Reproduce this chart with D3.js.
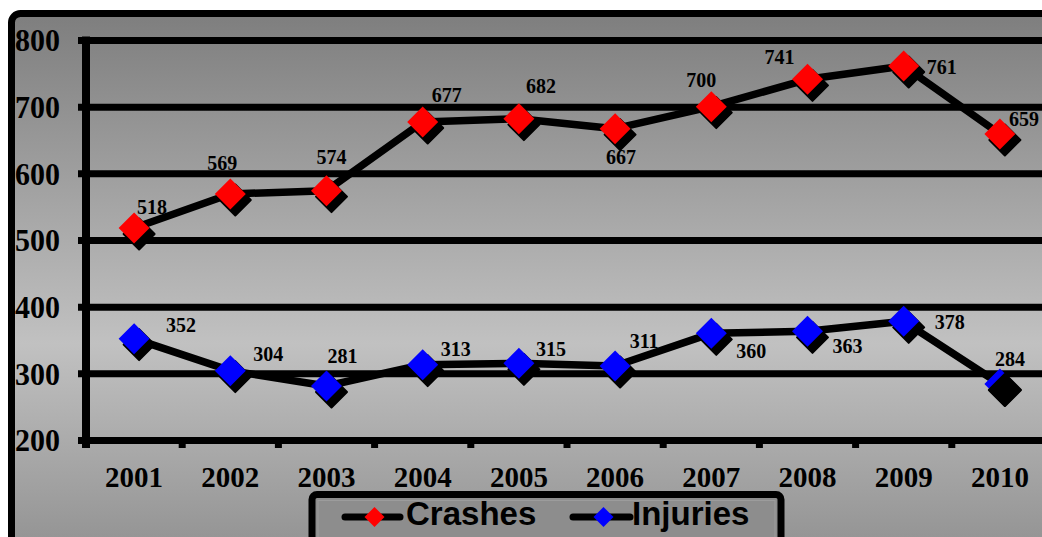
<!DOCTYPE html>
<html>
<head>
<meta charset="utf-8">
<script src="https://cdn.jsdelivr.net/npm/d3@7"></script>
<style>
  html, body { margin: 0; padding: 0; background: #fff; }
  svg { display: block; }
</style>
</head>
<body>
<svg id="chart" width="1042" height="537"></svg>
<script>
// Yearly totals
const years = ["2001", "2002", "2003", "2004", "2005", "2006", "2007", "2008", "2009", "2010"];
const crashes = [518, 569, 574, 677, 682, 667, 700, 741, 761, 659];
const injuries = [352, 304, 281, 313, 315, 311, 360, 363, 378, 284];
const yTicks = [200, 300, 400, 500, 600, 700, 800];
const seriesNames = ["Crashes", "Injuries"];

// Where each value label sits relative to its marker (dx, dy)
const crashLabelOffsets = [[18,-21],[-8,-31],[5,-33],[24,-27],[22,-32],[6,29],[-10,-26],[-28,-22],[38,1],[24,-15]];
const injuryLabelOffsets = [[47,-13],[38,-16],[16,-30],[33,-15],[32,-14],[29,-25],[40,18],[40,15],[46,1],[10,-25]];

const svg = d3.select("#chart");
const W = 1042, H = 537;

// background gradient of the chart frame
const defs = svg.append("defs");
const grad = defs.append("linearGradient").attr("id", "bg").attr("x1", 0).attr("y1", 0).attr("x2", 0).attr("y2", 1);
grad.append("stop").attr("offset", "0%").attr("stop-color", "#7e7e7e");
grad.append("stop").attr("offset", "55%").attr("stop-color", "#c1c1c1");
grad.append("stop").attr("offset", "100%").attr("stop-color", "#848484");

svg.append("rect")
  .attr("x", 11.5).attr("y", 13.5)
  .attr("width", 1100).attr("height", 600)
  .attr("rx", 9)
  .attr("fill", "url(#bg)")
  .attr("stroke", "#000").attr("stroke-width", 7);

const x = d3.scaleBand().domain(years).range([86, 1048]).padding(0);
const y = d3.scaleLinear().domain([200, 800]).range([440, 40]);
const cx = d => x(d) + x.bandwidth() / 2;

const serif = "'Liberation Serif', 'Times New Roman', serif";
const sans = "'Liberation Sans', Arial, sans-serif";

// horizontal gridlines with short ticks left of the axis
const yAxis = d3.axisLeft(y).tickValues(yTicks).tickSize(-(W + 20 - 86)).tickSizeOuter(0).tickPadding(0);
const gy = svg.append("g").attr("transform", "translate(86,0)").call(yAxis);
gy.select(".domain").remove();
gy.selectAll(".tick line")
  .attr("x1", -8)
  .attr("stroke", "#000").attr("stroke-width", 7);
gy.selectAll(".tick text")
  .attr("x", -26)
  .attr("dy", "0.34em")
  .attr("text-anchor", "end")
  .attr("textLength", 45)
  .attr("lengthAdjust", "spacingAndGlyphs")
  .attr("fill", "#000")
  .style("font-family", serif)
  .style("font-weight", "bold")
  .style("font-size", "32px");

// category axis along the bottom, tick marks between the years
const gx = svg.append("g").attr("transform", "translate(0,440)")
  .call(d3.axisBottom(x).tickSize(0).tickPadding(0));
gx.select(".domain").remove();
gx.selectAll(".tick text")
  .attr("y", 47)
  .attr("dy", 0)
  .attr("fill", "#000")
  .style("font-family", serif)
  .style("font-weight", "bold")
  .style("font-size", "29px");
svg.append("g").selectAll("line")
  .data(years.slice(1).concat(["end"]))
  .join("line")
  .attr("x1", (d, i) => x.range()[0] + (i + 1) * x.bandwidth())
  .attr("x2", (d, i) => x.range()[0] + (i + 1) * x.bandwidth())
  .attr("y1", 440).attr("y2", 448)
  .attr("stroke", "#000").attr("stroke-width", 7);

// vertical axis line
svg.append("line")
  .attr("x1", 86).attr("x2", 86)
  .attr("y1", y(800) - 3.5).attr("y2", 448)
  .attr("stroke", "#000").attr("stroke-width", 8);

const series = [
  { name: seriesNames[0], values: crashes, color: "#ff0000", offsets: crashLabelOffsets },
  { name: seriesNames[1], values: injuries, color: "#0000ff", offsets: injuryLabelOffsets }
];

const line = d3.line().x((d, i) => cx(years[i])).y(d => y(d));
const diamond = d3.symbol(d3.symbolSquare, 480);

svg.append("g").selectAll("path")
  .data(series)
  .join("path")
  .attr("d", s => line(s.values))
  .attr("fill", "none")
  .attr("stroke", "#000").attr("stroke-width", 7.5)
  .attr("stroke-linejoin", "round");

const shadowAt = (xv, yv) => `translate(${xv + 5},${yv + 6}) rotate(45)`;

// marker shadows
series.forEach(s => {
  svg.append("g").selectAll("path")
    .data(s.values)
    .join("path")
    .attr("d", diamond)
    .attr("transform", (d, i) => shadowAt(cx(years[i]), y(d)))
    .attr("fill", "#000")
    .attr("stroke", "#000").attr("stroke-width", 2).attr("stroke-linejoin", "round");
});

// markers
series.forEach(s => {
  svg.append("g").selectAll("path")
    .data(s.values)
    .join("path")
    .attr("d", diamond)
    .attr("transform", (d, i) => `translate(${cx(years[i])},${y(d)}) rotate(45)`)
    .attr("fill", s.color);
});

// the final injuries marker is partly covered by its own shadow
const last = injuries.length - 1;
svg.append("path")
  .attr("d", diamond)
  .attr("transform", shadowAt(cx(years[last]), y(injuries[last])))
  .attr("fill", "#000")
  .attr("stroke", "#000").attr("stroke-width", 3).attr("stroke-linejoin", "round");

// value labels
series.forEach(s => {
  svg.append("g").selectAll("text")
    .data(s.values)
    .join("text")
    .attr("x", (d, i) => cx(years[i]) + s.offsets[i][0])
    .attr("y", (d, i) => y(d) + s.offsets[i][1])
    .attr("dy", "0.34em")
    .attr("text-anchor", "middle")
    .style("font-family", serif)
    .style("font-weight", "bold")
    .style("font-size", "20px")
    .attr("fill", "#000")
    .text(d => d);
});

// legend
const lg = svg.append("g");
lg.append("rect")
  .attr("x", 312).attr("y", 494.5)
  .attr("width", 469).attr("height", 80)
  .attr("rx", 5)
  .attr("fill", "#8d8d8d")
  .attr("stroke", "#000").attr("stroke-width", 7);
lg.append("rect")
  .attr("x", 318).attr("y", 500.5)
  .attr("width", 457).attr("height", 70)
  .attr("fill", "none")
  .attr("stroke", "#9c9c9c").attr("stroke-width", 1);

const legendItems = [
  { name: series[0].name, color: series[0].color, x0: 345, x1: 400, tx: 406 },
  { name: series[1].name, color: series[1].color, x0: 573, x1: 630, tx: 632 }
];
const ly = 517;
legendItems.forEach(it => {
  lg.append("line")
    .attr("x1", it.x0).attr("x2", it.x1)
    .attr("y1", ly).attr("y2", ly)
    .attr("stroke", "#000").attr("stroke-width", 7).attr("stroke-linecap", "round");
  lg.append("path")
    .attr("d", d3.symbol(d3.symbolSquare, 200)())
    .attr("transform", `translate(${(it.x0 + it.x1) / 2 + 2},${ly}) rotate(45)`)
    .attr("fill", it.color);
  lg.append("text")
    .attr("x", it.tx).attr("y", 525)
    .style("font-family", sans)
    .style("font-weight", "bold")
    .style("font-size", "33px")
    .attr("fill", "#000")
    .text(it.name);
});
</script>
</body>
</html>
